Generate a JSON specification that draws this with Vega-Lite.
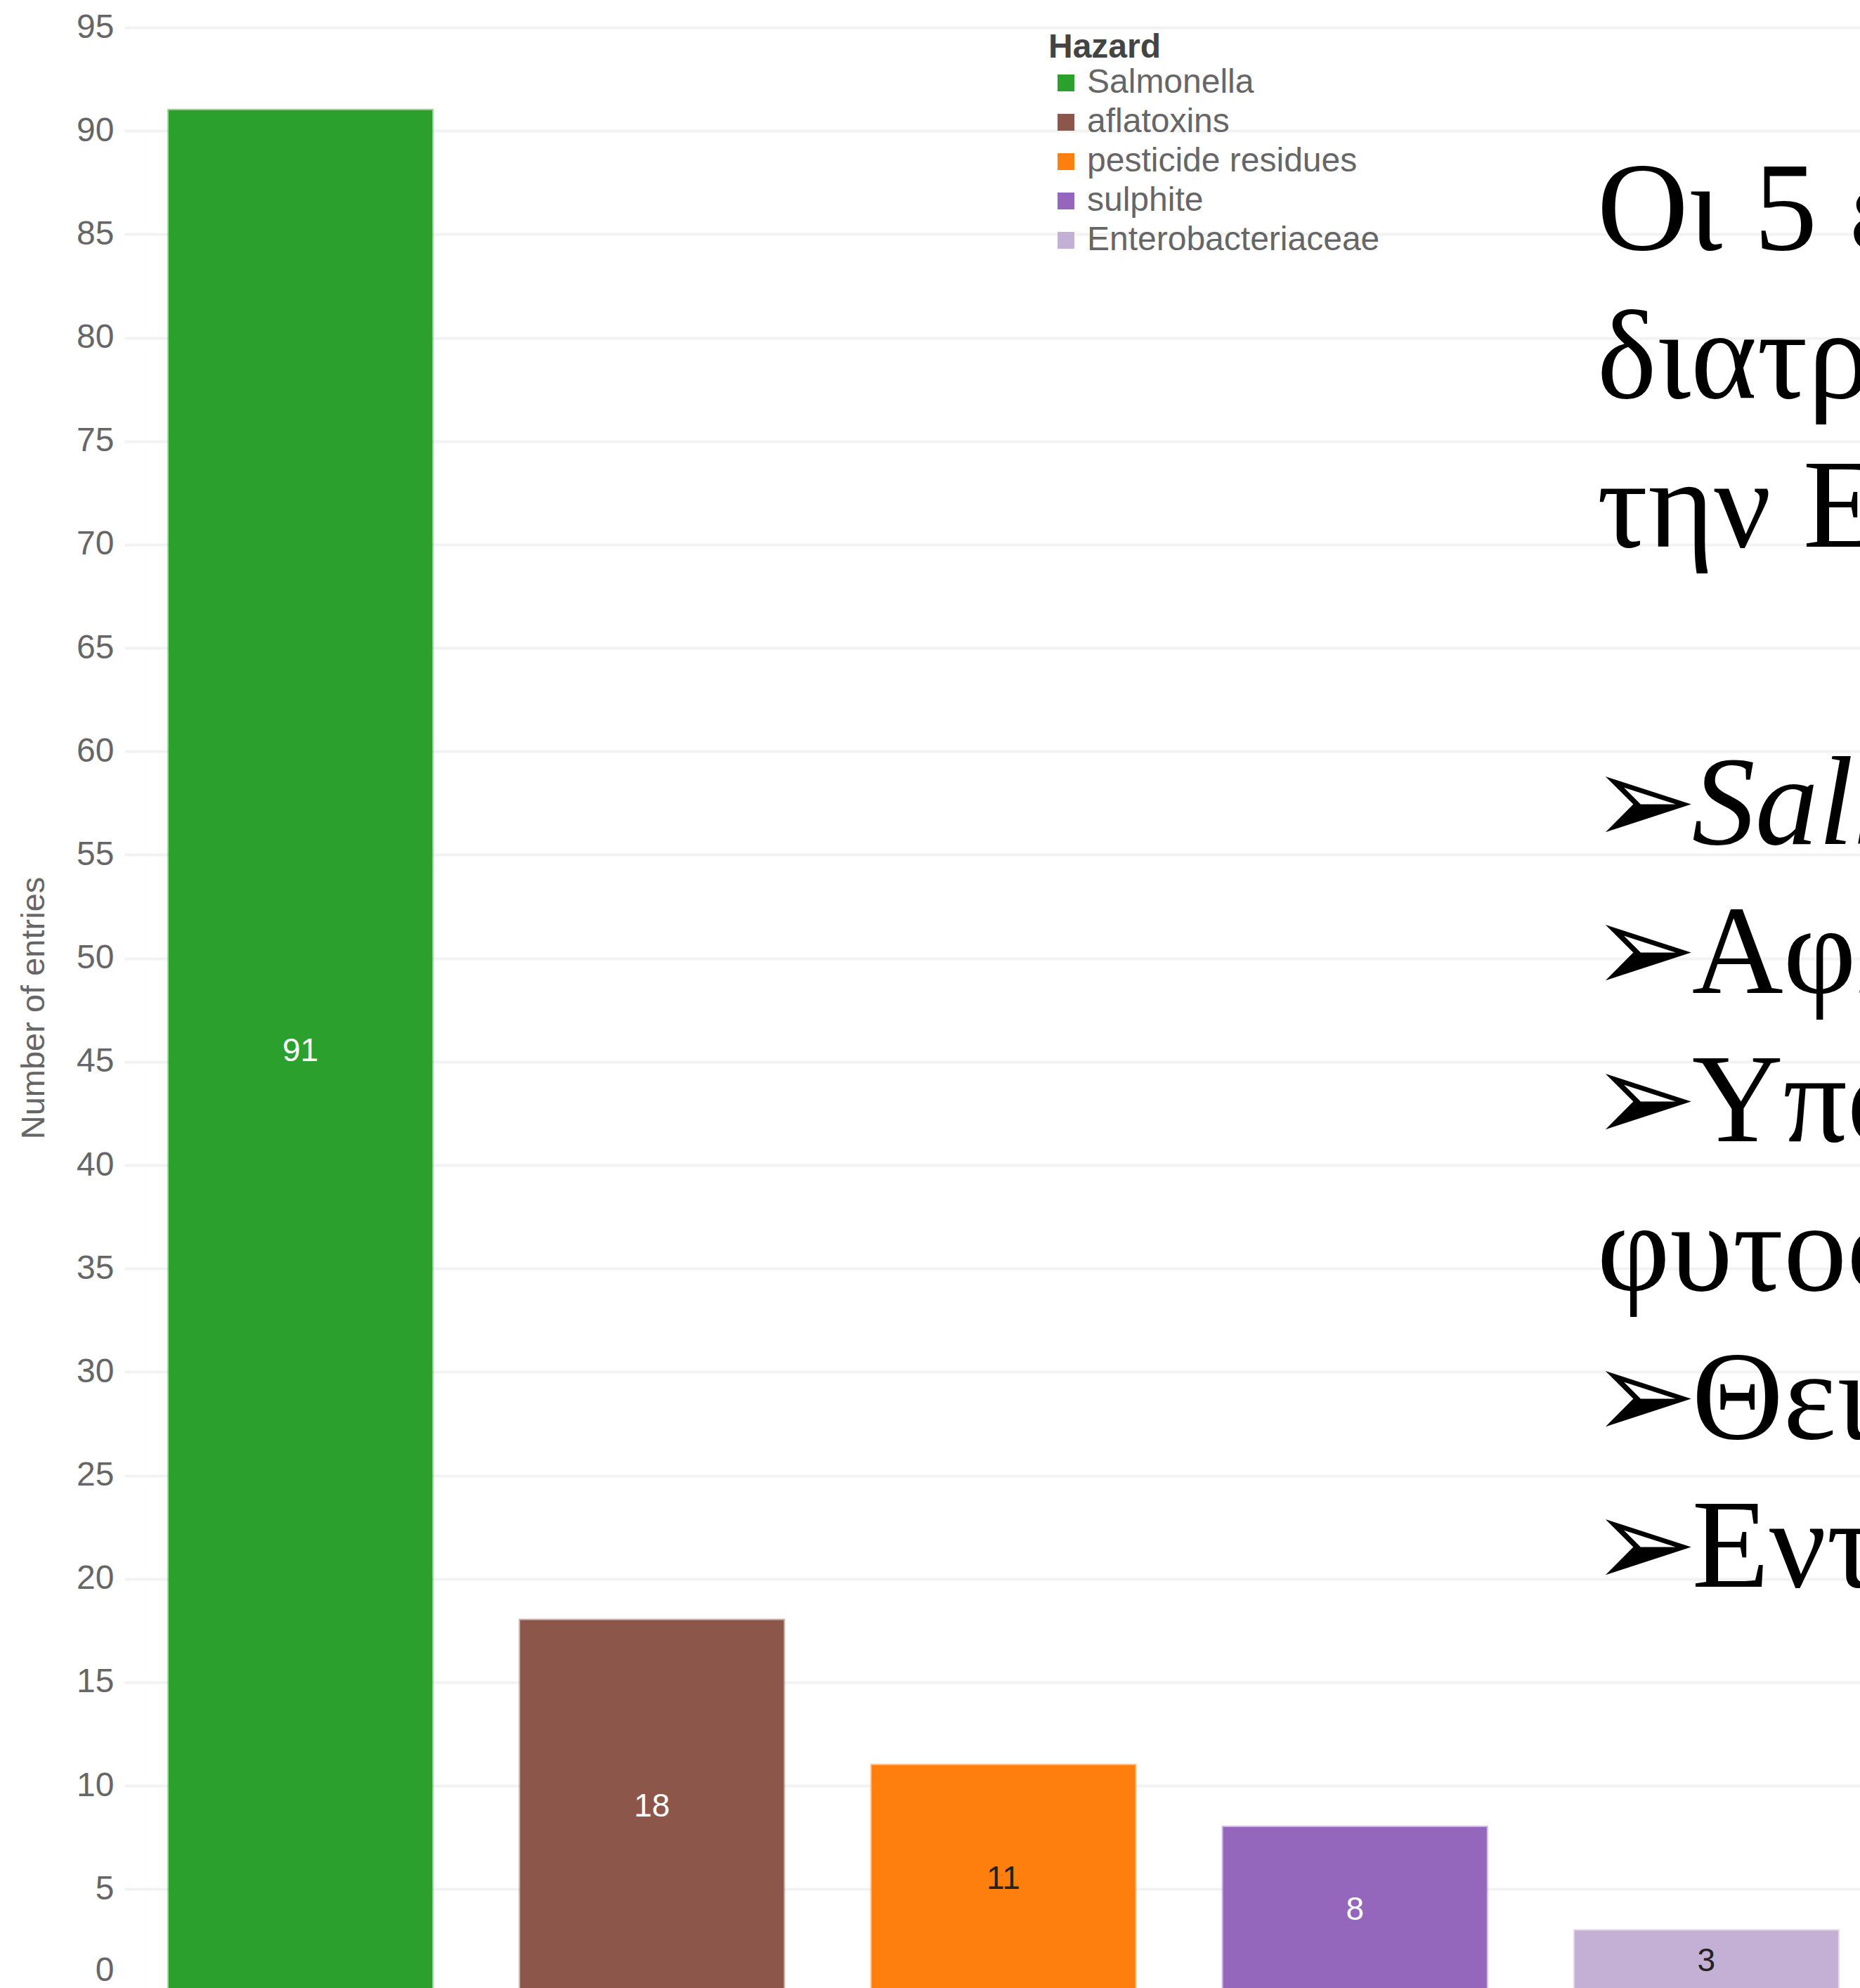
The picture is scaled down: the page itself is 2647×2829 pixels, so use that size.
{
  "$schema": "https://vega.github.io/schema/vega-lite/v6.json",
  "width": 2470,
  "height": 2790,
  "autosize": {"type": "none"},
  "padding": {"left": 177, "top": 39, "right": 0, "bottom": 0},
  "background": "white",
  "config": {"view": {"stroke": null}, "font": "Liberation Sans"},
  "data": {"values": [
    {"Hazard": "Salmonella", "Entries": 91},
    {"Hazard": "aflatoxins", "Entries": 18},
    {"Hazard": "pesticide residues", "Entries": 11},
    {"Hazard": "sulphite", "Entries": 8},
    {"Hazard": "Enterobacteriaceae", "Entries": 3}
  ]},
  "resolve": {"scale": {"y": "independent"}},
  "layer": [
    {
      "mark": {"type": "bar", "clip": true, "strokeWidth": 4, "strokeOpacity": 0.45},
      "encoding": {
        "x": {
          "field": "Hazard", "type": "nominal",
          "sort": ["Salmonella", "aflatoxins", "pesticide residues", "sulphite", "Enterobacteriaceae"],
          "scale": {"domain": ["Salmonella", "aflatoxins", "pesticide residues", "sulphite", "Enterobacteriaceae"], "paddingInner": 0.25, "paddingOuter": 0.094, "align": 0.67},
          "axis": null
        },
        "y": {
          "field": "Entries", "type": "quantitative",
          "scale": {"domain": [0.22, 95], "nice": false, "zero": false},
          "axis": {
            "values": [1.04, 5, 10, 15, 20, 25, 30, 35, 40, 45, 50, 55, 60, 65, 70, 75, 80, 85, 90, 95],
            "labelExpr": "datum.value < 2 ? '0' : format(datum.value, 'd')",
            "title": "Number of entries",
            "ticks": false, "domain": false,
            "labelFontSize": 48, "labelColor": "#666666", "labelPadding": 15, "labelFont": "Liberation Sans",
            "labelFlush": false, "labelOverlap": false, "labelBound": false,
            "titleFontSize": 47, "titleFontWeight": "normal", "titleColor": "#666666", "titlePadding": 36, "titleFont": "Liberation Sans",
            "gridColor": "#f2f2f2", "gridWidth": 4,
            "gridOpacity": {"condition": {"test": "datum.value < 2", "value": 0}, "value": 1}
          }
        },
        "color": {
          "field": "Hazard", "type": "nominal",
          "scale": {"domain": ["Salmonella", "aflatoxins", "pesticide residues", "sulphite", "Enterobacteriaceae"], "range": ["#2ca02c", "#8c564b", "#ff7f0e", "#9467bd", "#c5b0d5"]},
          "legend": {
            "title": "Hazard", "orient": "none", "legendX": 1315, "legendY": 5,
            "titleFontSize": 48, "titleFontWeight": "bold", "titleColor": "#444444", "titlePadding": 2, "titleFont": "Liberation Sans",
            "labelFontSize": 48, "labelColor": "#666666", "labelFont": "Liberation Sans", "labelLimit": 1000,
            "symbolType": "square", "symbolSize": 576, "symbolStrokeWidth": 0, "symbolOffset": 1, "labelOffset": 6,
            "rowPadding": 8, "padding": 0
          }
        },
        "stroke": {
          "field": "Hazard", "type": "nominal",
          "scale": {"domain": ["Salmonella", "aflatoxins", "pesticide residues", "sulphite", "Enterobacteriaceae"], "range": ["#2ca02c", "#8c564b", "#ff7f0e", "#9467bd", "#c5b0d5"]},
          "legend": null
        }
      }
    },
    {
      "mark": {"type": "text", "fontSize": 46, "font": "Liberation Sans", "baseline": "middle", "align": "center"},
      "encoding": {
        "x": {"field": "Hazard", "type": "nominal", "sort": ["Salmonella", "aflatoxins", "pesticide residues", "sulphite", "Enterobacteriaceae"], "axis": null},
        "y": {"field": "Entries", "type": "quantitative", "scale": {"domain": [0.44, 190], "nice": false, "zero": false}, "axis": null},
        "text": {"field": "Entries", "type": "quantitative"},
        "color": {"condition": {"test": "datum.Hazard === 'pesticide residues' || datum.Hazard === 'Enterobacteriaceae'", "value": "#222222"}, "value": "#ffffff"}
      }
    },
    {
      "data": {"values": [{}]},
      "mark": {"type": "text", "text": ["Οι 5 επικρατέστεροι κίνδυνοι", "διατροφικοί κίνδυνοι στην", "την ΕΕ"], "font": "Liberation Serif", "fontSize": 180, "lineHeight": 211.5, "align": "left", "baseline": "alphabetic", "color": "#000000", "dx": 32, "clip": true},
      "encoding": {
        "x": {"datum": "Enterobacteriaceae", "type": "nominal", "bandPosition": 0},
        "y": {"datum": 84.27, "type": "quantitative", "scale": {"domain": [0.22, 95], "nice": false, "zero": false}, "axis": null}
      }
    },
    {
      "data": {"values": [{}]},
      "mark": {"type": "text", "text": "φυτοφαρμάκων", "font": "Liberation Serif", "fontSize": 180, "align": "left", "baseline": "alphabetic", "color": "#000000", "dx": 32, "clip": true},
      "encoding": {
        "x": {"datum": "Enterobacteriaceae", "type": "nominal", "bandPosition": 0},
        "y": {"datum": 33.97, "type": "quantitative", "scale": {"domain": [0.22, 95], "nice": false, "zero": false}, "axis": null}
      }
    },
    {
      "data": {"values": [{}]},
      "mark": {"type": "text", "text": ["➢", "➢", "➢"], "font": "DejaVu Sans", "fontSize": 180, "lineHeight": 211.5, "align": "left", "baseline": "alphabetic", "color": "#000000", "dx": 24, "clip": true},
      "encoding": {
        "x": {"datum": "Enterobacteriaceae", "type": "nominal", "bandPosition": 0},
        "y": {"datum": 55.53, "type": "quantitative", "scale": {"domain": [0.22, 95], "nice": false, "zero": false}, "axis": null}
      }
    },
    {
      "data": {"values": [{}]},
      "mark": {"type": "text", "text": ["➢", "➢"], "font": "DejaVu Sans", "fontSize": 180, "lineHeight": 211.5, "align": "left", "baseline": "alphabetic", "color": "#000000", "dx": 24, "clip": true},
      "encoding": {
        "x": {"datum": "Enterobacteriaceae", "type": "nominal", "bandPosition": 0},
        "y": {"datum": 26.79, "type": "quantitative", "scale": {"domain": [0.22, 95], "nice": false, "zero": false}, "axis": null}
      }
    },
    {
      "data": {"values": [{}]},
      "mark": {"type": "text", "text": "Salmonella", "font": "Liberation Serif", "fontStyle": "italic", "fontSize": 180, "align": "left", "baseline": "alphabetic", "color": "#000000", "dx": 167, "clip": true},
      "encoding": {
        "x": {"datum": "Enterobacteriaceae", "type": "nominal", "bandPosition": 0},
        "y": {"datum": 55.53, "type": "quantitative", "scale": {"domain": [0.22, 95], "nice": false, "zero": false}, "axis": null}
      }
    },
    {
      "data": {"values": [{}]},
      "mark": {"type": "text", "text": ["Αφλατοξίνες", "Υπολείμματα"], "font": "Liberation Serif", "fontSize": 180, "lineHeight": 211.5, "align": "left", "baseline": "alphabetic", "color": "#000000", "dx": 167, "clip": true},
      "encoding": {
        "x": {"datum": "Enterobacteriaceae", "type": "nominal", "bandPosition": 0},
        "y": {"datum": 48.34, "type": "quantitative", "scale": {"domain": [0.22, 95], "nice": false, "zero": false}, "axis": null}
      }
    },
    {
      "data": {"values": [{}]},
      "mark": {"type": "text", "text": ["Θειώδη", "Εντεροβακτήρια"], "font": "Liberation Serif", "fontSize": 180, "lineHeight": 211.5, "align": "left", "baseline": "alphabetic", "color": "#000000", "dx": 167, "clip": true},
      "encoding": {
        "x": {"datum": "Enterobacteriaceae", "type": "nominal", "bandPosition": 0},
        "y": {"datum": 26.79, "type": "quantitative", "scale": {"domain": [0.22, 95], "nice": false, "zero": false}, "axis": null}
      }
    }
  ]
}
